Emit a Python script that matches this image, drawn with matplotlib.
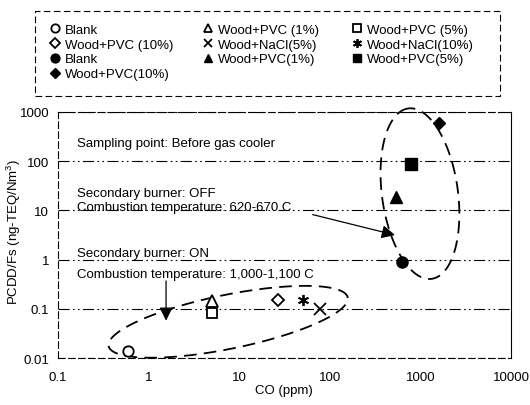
import numpy as np
import matplotlib
matplotlib.use("Agg")
import matplotlib.pyplot as plt
from matplotlib.patches import Rectangle

plt.rcParams['font.family'] = ['Liberation Sans', 'DejaVu Sans']
plt.rcParams['font.size'] = 9.5
plt.rcParams['mathtext.fontset'] = 'custom'
plt.rcParams['mathtext.rm'] = 'Liberation Sans'

# ---- data: secondary burner ON (open symbols) ----
open_labels = ['Blank', 'Wood+PVC (1%)', 'Wood+PVC (5%)', 'Wood+PVC (10%)',
               'Wood+NaCl(5%)', 'Wood+NaCl(10%)']
open_co = [0.60, 5.0, 5.0, 27, 78, 51]
open_pcdd = [0.0143, 0.142, 0.082, 0.153, 0.100, 0.149]
open_markers = ['o', '^', 's', 'D', 'x', (6, 2, 0)]
open_sizes = [7.5, 8, 7, 6.5, 8, 8]

# ---- data: secondary burner OFF (filled symbols) ----
filled_labels = ['Blank', 'Wood+PVC(1%)', 'Wood+PVC(5%)', 'Wood+PVC(10%)']
filled_co = [622, 535, 780, 1600]
filled_pcdd = [0.91, 19, 88, 600]
filled_markers = ['o', '^', 's', 'D']
filled_sizes = [8, 8, 8, 6]

x_ticks = [0.1, 1, 10, 100, 1000, 10000]
x_ticklabels = ['0.1', '1', '10', '100', '1000', '10000']
y_ticks = [0.01, 0.1, 1, 10, 100, 1000]
y_ticklabels = ['0.01', '0.1', '1', '10', '100', '1000']

fig = plt.figure(figsize=(5.3, 4.06), dpi=100)
ax = fig.add_axes([0.1087, 0.115, 0.8555, 0.6074])
ax.set_xscale('log')
ax.set_yscale('log')
ax.set_xlim(0.1, 10000)
ax.set_ylim(0.01, 1000)

grid_ls = (0, (10, 3, 1.5, 3, 1.5, 3))
for yt in y_ticks:
    ax.axhline(yt, color='black', lw=0.8, ls=grid_ls, zorder=1)
for name, sp in ax.spines.items():
    sp.set_linewidth(0.8)
    if name != 'right':
        sp.set_linestyle((0, (6, 3)))

ax.set_xticks(x_ticks)
ax.set_xticklabels(x_ticklabels)
ax.set_yticks(y_ticks)
ax.set_yticklabels(y_ticklabels)
ax.minorticks_off()
ax.tick_params(axis='y', length=0, pad=6, labelsize=9.5)
ax.tick_params(axis='x', length=0, pad=9, labelsize=9.5)
ax.set_xlabel('CO (ppm)', labelpad=1)
ax.set_ylabel('PCDD/Fs (ng-TEQ/Nm$^3$)')
ax.yaxis.set_label_coords(-0.076, 0.516)

handles = {}
for lab, x, y, m, s in zip(open_labels, open_co, open_pcdd, open_markers, open_sizes):
    h, = ax.plot([x], [y], ls='none', marker=m, ms=s, mfc='white', mec='black',
                 mew=1.3, zorder=4, label=lab)
    handles[('o', lab)] = h
for lab, x, y, m, s in zip(filled_labels, filled_co, filled_pcdd, filled_markers, filled_sizes):
    h, = ax.plot([x], [y], ls='none', marker=m, ms=s, mfc='black', mec='black',
                 mew=1.0, zorder=4, label=lab)
    handles[('f', lab)] = h


# dashed ellipses (annotation shapes, in pixel units around a data centre)
def draw_ellipse(cx, cy, a_px, b_px, ang_deg):
    fig.canvas.draw()
    bb = ax.get_window_extent()
    dx = bb.width / 5.0
    dy = bb.height / 5.0
    t = np.linspace(0, 2 * np.pi, 400)
    th = np.deg2rad(ang_deg)
    px = a_px * np.cos(t) * np.cos(th) - b_px * np.sin(t) * np.sin(th)
    py = a_px * np.cos(t) * np.sin(th) + b_px * np.sin(t) * np.cos(th)
    lx = np.log10(cx) + px / dx
    ly = np.log10(cy) + py / dy
    ax.plot(10 ** lx, 10 ** ly, color='black', lw=1.3, ls=(0, (7, 4)), zorder=3,
            clip_on=False)


draw_ellipse(7.6, 0.055, 122, 27, 11.5)
draw_ellipse(990, 21.8, 86, 38, 97.8)

# annotation texts
tx = 0.043
ax.text(tx, 0.872, 'Sampling point: Before gas cooler', transform=ax.transAxes, va='center')
ax.text(tx, 0.672, 'Secondary burner: OFF', transform=ax.transAxes, va='center')
ax.text(tx, 0.613, 'Combustion temperature: 620-670 C', transform=ax.transAxes, va='center')
ax.text(tx, 0.427, 'Secondary burner: ON', transform=ax.transAxes, va='center')
ax.text(tx, 0.341, 'Combustion temperature: 1,000-1,100 C', transform=ax.transAxes, va='center')

ax.annotate('', xy=(525, 3.16), xytext=(65, 8.2),
            arrowprops=dict(arrowstyle='-|>', color='black', lw=0.9,
                            mutation_scale=20, shrinkA=0, shrinkB=0), zorder=5)
ax.annotate('', xy=(1.57, 0.058), xytext=(1.57, 0.37),
            arrowprops=dict(arrowstyle='-|>', color='black', lw=0.9,
                            mutation_scale=20, shrinkA=0, shrinkB=0), zorder=5)

# legend: three single-column legends placed at the reference column positions
columns = [
    [('o', 'Blank'), ('o', 'Wood+PVC (10%)'), ('f', 'Blank'), ('f', 'Wood+PVC(10%)')],
    [('o', 'Wood+PVC (1%)'), ('o', 'Wood+NaCl(5%)'), ('f', 'Wood+PVC(1%)')],
    [('o', 'Wood+PVC (5%)'), ('o', 'Wood+NaCl(10%)'), ('f', 'Wood+PVC(5%)')],
]
col_x_px = [50, 203, 352]
W, H = 530.0, 406.0
for col, xp in zip(columns, col_x_px):
    lg = fig.legend([handles[k] for k in col], [k[1] for k in col], loc='upper left',
                    bbox_to_anchor=(xp / W, 1 - 24.5 / H), borderaxespad=0, borderpad=0,
                    frameon=False, handlelength=0.8, handletextpad=0.35,
                    labelspacing=0.2, markerscale=0.8, fontsize=9.5)
fig.patches.append(Rectangle((35 / W, 1 - 97 / H), 465 / W, 85 / H,
                             transform=fig.transFigure, fill=False, ec='black',
                             lw=0.8, ls=(0, (6, 3))))

fig.savefig('out.png', dpi=100)
